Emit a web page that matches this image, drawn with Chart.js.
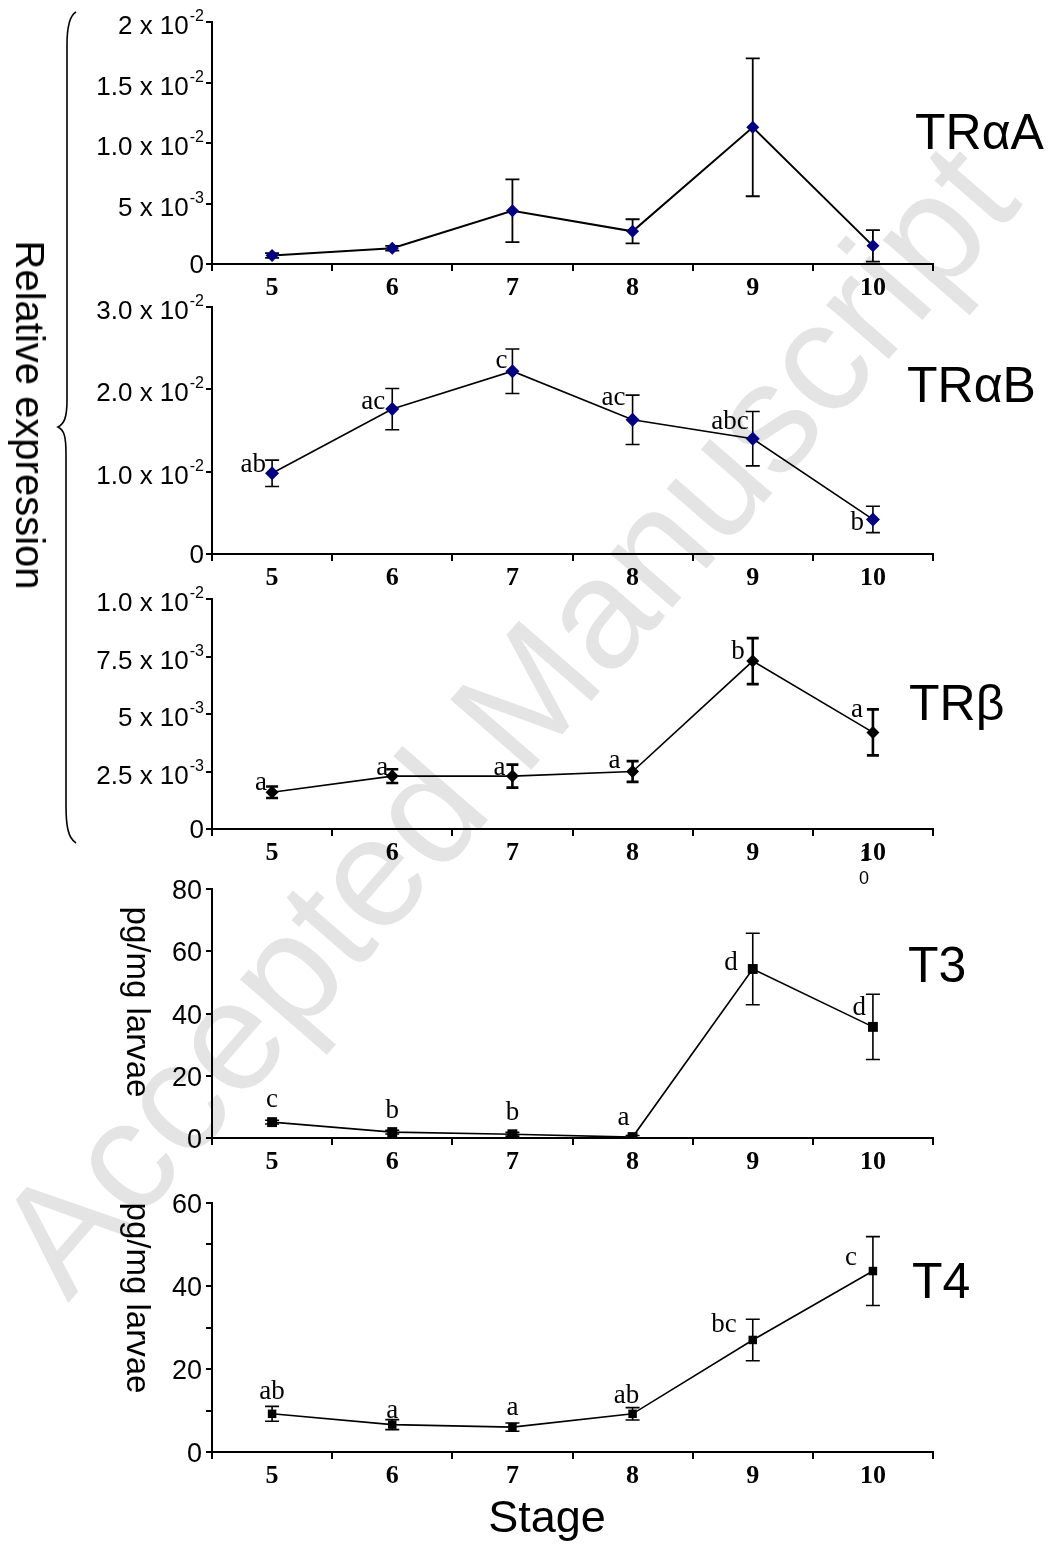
<!DOCTYPE html>
<html>
<head>
<meta charset="utf-8">
<script src="https://cdn.jsdelivr.net/npm/chart.js@4.4.0/dist/chart.umd.min.js"></script>
<style>
  body { margin: 0; background: #fff; }
  #page { position: relative; width: 1053px; height: 1545px; overflow: hidden; font-family: 'Liberation Sans', Arial, sans-serif; }
  canvas { position: absolute; left: 0; }
  .lbl { position: absolute; white-space: nowrap; line-height: 1; color: #000; }
  .rot { transform: translate(-50%, -50%) rotate(90deg); }
  #wm { position: absolute; left: 505px; top: 718px; color: #e4e4e4; font-size: 156px; line-height: 1; white-space: nowrap;
        transform: translate(-50%, -50%) rotate(-49deg); }
</style>
</head>
<body>
<div id="page">
  <div id="wm">Accepted Manuscript</div>
  <svg width="1053" height="1545" style="position:absolute;left:0;top:0">
    <path d="M76 12 C69 16 67 28 67 45 L67 400 C67 418 64 424 58 427 C64 430 66 436 66 454 L66 805 C66 826 68 838 76 843"
          fill="none" stroke="#000" stroke-width="1.6"/>
  </svg>
  <canvas id="c1" width="1053" height="297" style="top:7px"></canvas>
  <canvas id="c2" width="1053" height="302" style="top:292px"></canvas>
  <canvas id="c3" width="1053" height="285" style="top:584px"></canvas>
  <canvas id="c4" width="1053" height="304" style="top:874px"></canvas>
  <canvas id="c5" width="1053" height="304" style="top:1188px"></canvas>

  <div class="lbl rot" style="left:30px;top:415px;font-size:40px">Relative expression</div>
  <div class="lbl rot" style="left:138px;top:1002px;font-size:33px">pg/mg larvae</div>
  <div class="lbl rot" style="left:138px;top:1298px;font-size:33px">pg/mg larvae</div>

  <div class="lbl" style="left:915px;top:107px;font-size:50px">TRαA</div>
  <div class="lbl" style="left:907px;top:360px;font-size:50px">TRαB</div>
  <div class="lbl" style="left:909px;top:678px;font-size:50px">TRβ</div>
  <div class="lbl" style="left:908px;top:940px;font-size:50px">T3</div>
  <div class="lbl" style="left:912px;top:1256px;font-size:50px">T4</div>

  <div class="lbl" style="left:860px;top:847px;font-size:17px">1</div>
  <div class="lbl" style="left:859px;top:869px;font-size:18px">0</div>

  <div class="lbl" style="left:547px;top:1494px;font-size:45px;transform:translateX(-50%)">Stage</div>
</div>

<script>
const stages = ['5', '6', '7', '8', '9', '10'];

// TRαA relative expression
const traA = [0.0007, 0.0013, 0.0044, 0.0027, 0.0113, 0.0015];
const traAErr = [0.0002, 0.0002, 0.0026, 0.001, 0.0057, 0.0013];
const traATicks = [0, 0.005, 0.01, 0.015, 0.02];
const traATickLabels = ['0', '5 x 10|-3', '1.0 x 10|-2', '1.5 x 10|-2', '2 x 10|-2'];

// TRαB relative expression
const traB = [0.0098, 0.0176, 0.0222, 0.0163, 0.0140, 0.0042];
const traBErr = [0.0016, 0.0025, 0.0027, 0.003, 0.0033, 0.0016];
const traBLetters = ['ab', 'ac', 'c', 'ac', 'abc', 'b'];
const traBTicks = [0, 0.01, 0.02, 0.03];
const traBTickLabels = ['0', '1.0 x 10|-2', '2.0 x 10|-2', '3.0 x 10|-2'];

// TRβ relative expression
const trb = [0.0016, 0.0023, 0.0023, 0.0025, 0.0073, 0.0042];
const trbErr = [0.00025, 0.0003, 0.0005, 0.00045, 0.001, 0.001];
const trbLetters = ['a', 'a', 'a', 'a', 'b', 'a'];
const trbTicks = [0, 0.0025, 0.005, 0.0075, 0.01];
const trbTickLabels = ['0', '2.5 x 10|-3', '5 x 10|-3', '7.5 x 10|-3', '1.0 x 10|-2'];

// T3 pg/mg larvae
const t3 = [5.1, 1.9, 1.2, 0.3, 54.3, 35.7];
const t3Err = [0.6, 0.6, 0.6, 0.5, 11.5, 10.5];
const t3Letters = ['c', 'b', 'b', 'a', 'd', 'd'];
const t3Ticks = [0, 20, 40, 60, 80];
const t3TickLabels = ['0', '20', '40', '60', '80'];

// T4 pg/mg larvae
const t4 = [9.2, 6.6, 6.0, 9.2, 27.0, 43.6];
const t4Err = [1.8, 1.2, 1.0, 1.5, 5.0, 8.3];
const t4Letters = ['ab', 'a', 'a', 'ab', 'bc', 'c'];
const t4Ticks = [0, 10, 20, 30, 40, 50, 60];
const t4TickLabels = ['0', '', '20', '', '40', '', '60'];

// where each letter sits next to its point: [align, dx, dy]
const traBLetterPos = [['right', -6, -1], ['right', -7, 0], ['right', -5, -3], ['right', -7, -15], ['right', -4, -10], ['right', -9, 11]];
const trbLetterPos = [['right', -5, -2], ['right', -4, -1], ['right', -7, -1], ['right', -12, -4], ['right', -8, -2], ['right', -10, -15]];
const t3LetterPos = [['center', 0, -15], ['center', 0, -14], ['center', 0, -14], ['center', -9, -12], ['right', -15, 1], ['right', -7, -12]];
const t4LetterPos = [['center', 0, -15], ['center', 0, -7], ['center', 0, -12], ['center', -6, -11], ['right', -16, -8], ['right', -16, -6]];

const extras = {
  id: 'extras',
  beforeDatasetsDraw(chart, args, o) {
    const ctx = chart.ctx, xs = chart.scales.x, ys = chart.scales.y;
    const data = chart.data.datasets[0].data;
    ctx.save();
    ctx.strokeStyle = '#000';
    ctx.lineWidth = o.errWidth;
    data.forEach((v, i) => {
      const e = o.err[i];
      if (!e) return;
      const x = xs.getPixelForValue(i);
      const y1 = ys.getPixelForValue(v + e);
      const y2 = ys.getPixelForValue(Math.max(v - e, 0));
      ctx.beginPath();
      ctx.moveTo(x, y1); ctx.lineTo(x, y2);
      ctx.moveTo(x - o.cap, y1); ctx.lineTo(x + o.cap, y1);
      ctx.moveTo(x - o.cap, y2); ctx.lineTo(x + o.cap, y2);
      ctx.stroke();
    });
    ctx.restore();
  },
  afterDraw(chart, args, o) {
    const ctx = chart.ctx, xs = chart.scales.x, ys = chart.scales.y;
    const data = chart.data.datasets[0].data;
    ctx.save();
    ctx.fillStyle = '#000';
    // y tick labels with superscript powers
    ctx.textAlign = 'right';
    ctx.textBaseline = 'alphabetic';
    o.tickValues.forEach((v, i) => {
      const txt = o.tickLabels[i];
      if (!txt) return;
      const py = ys.getPixelForValue(v);
      const parts = txt.split('|');
      let right = o.labelRight;
      if (parts[1]) {
        ctx.font = '16px "Liberation Sans"';
        ctx.fillText(parts[1], right, py - 1);
        right -= ctx.measureText(parts[1]).width + 1;
        ctx.font = o.tickSize + 'px "Liberation Sans"';
        ctx.fillText(parts[0], right, py + 12);
      } else {
        ctx.font = o.tickSize + 'px "Liberation Sans"';
        ctx.fillText(parts[0], right, py + o.plainDy);
      }
    });
    // significance letters
    if (o.letters) {
      ctx.font = '27px "Liberation Serif"';
      data.forEach((v, i) => {
        const p = o.letterPos[i];
        ctx.textAlign = p[0];
        ctx.fillText(o.letters[i], xs.getPixelForValue(i) + p[1], ys.getPixelForValue(v) + p[2]);
      });
    }
    ctx.restore();
  }
};

function makePanel(id, cfg) {
  return new Chart(document.getElementById(id), {
    type: 'line',
    data: {
      labels: stages,
      datasets: [{
        data: cfg.values,
        borderColor: '#000',
        borderWidth: cfg.lineWidth,
        pointStyle: cfg.marker,
        pointRadius: cfg.radius,
        pointBackgroundColor: cfg.color,
        pointBorderColor: cfg.color,
        pointBorderWidth: 0,
        tension: 0
      }]
    },
    options: {
      responsive: false,
      animation: false,
      layout: { padding: { top: 15, right: 120, left: 0, bottom: 0 } },
      plugins: {
        legend: { display: false },
        tooltip: { enabled: false },
        extras: {
          err: cfg.err,
          errWidth: cfg.errWidth,
          cap: cfg.cap,
          tickValues: cfg.ticks,
          tickLabels: cfg.tickLabels,
          tickSize: cfg.tickSize,
          labelRight: cfg.labelRight,
          plainDy: cfg.plainDy,
          letters: cfg.letters,
          letterPos: cfg.letterPos
        }
      },
      scales: {
        x: {
          offset: true,
          grid: { offset: true, drawOnChartArea: false, color: '#000', lineWidth: 2, tickLength: 7 },
          border: { color: '#000', width: 2 },
          ticks: { color: '#000', font: { family: 'Liberation Serif', weight: 'bold', size: 26 }, padding: 2, maxRotation: 0 },
          afterFit: s => { s.height = 40; }
        },
        y: {
          min: 0,
          max: cfg.ticks[cfg.ticks.length - 1],
          grid: { drawOnChartArea: false, color: '#000', lineWidth: 2, tickLength: 6 },
          border: { color: '#000', width: 2 },
          ticks: { display: false, stepSize: cfg.ticks[1] },
          afterFit: s => { s.width = 212; }
        }
      }
    },
    plugins: [extras]
  });
}

makePanel('c1', { values: traA, err: traAErr, ticks: traATicks, tickLabels: traATickLabels, color: '#000080',
  marker: 'rectRot', radius: 6.5, lineWidth: 2, errWidth: 1.8, cap: 7, tickSize: 26, labelRight: 204, plainDy: 9 });
makePanel('c2', { values: traB, err: traBErr, ticks: traBTicks, tickLabels: traBTickLabels, color: '#000080',
  marker: 'rectRot', radius: 7, lineWidth: 1.6, errWidth: 1.6, cap: 7, tickSize: 26, labelRight: 204, plainDy: 9,
  letters: traBLetters, letterPos: traBLetterPos });
makePanel('c3', { values: trb, err: trbErr, ticks: trbTicks, tickLabels: trbTickLabels, color: '#000',
  marker: 'rectRot', radius: 6.5, lineWidth: 1.6, errWidth: 2.6, cap: 6, tickSize: 26, labelRight: 204, plainDy: 9,
  letters: trbLetters, letterPos: trbLetterPos });
makePanel('c4', { values: t3, err: t3Err, ticks: t3Ticks, tickLabels: t3TickLabels, color: '#000',
  marker: 'rect', radius: 7, lineWidth: 1.6, errWidth: 1.6, cap: 7, tickSize: 27, labelRight: 202, plainDy: 10,
  letters: t3Letters, letterPos: t3LetterPos });
makePanel('c5', { values: t4, err: t4Err, ticks: t4Ticks, tickLabels: t4TickLabels, color: '#000',
  marker: 'rect', radius: 6, lineWidth: 1.6, errWidth: 1.6, cap: 7, tickSize: 27, labelRight: 202, plainDy: 10,
  letters: t4Letters, letterPos: t4LetterPos });
</script>
</body>
</html>
